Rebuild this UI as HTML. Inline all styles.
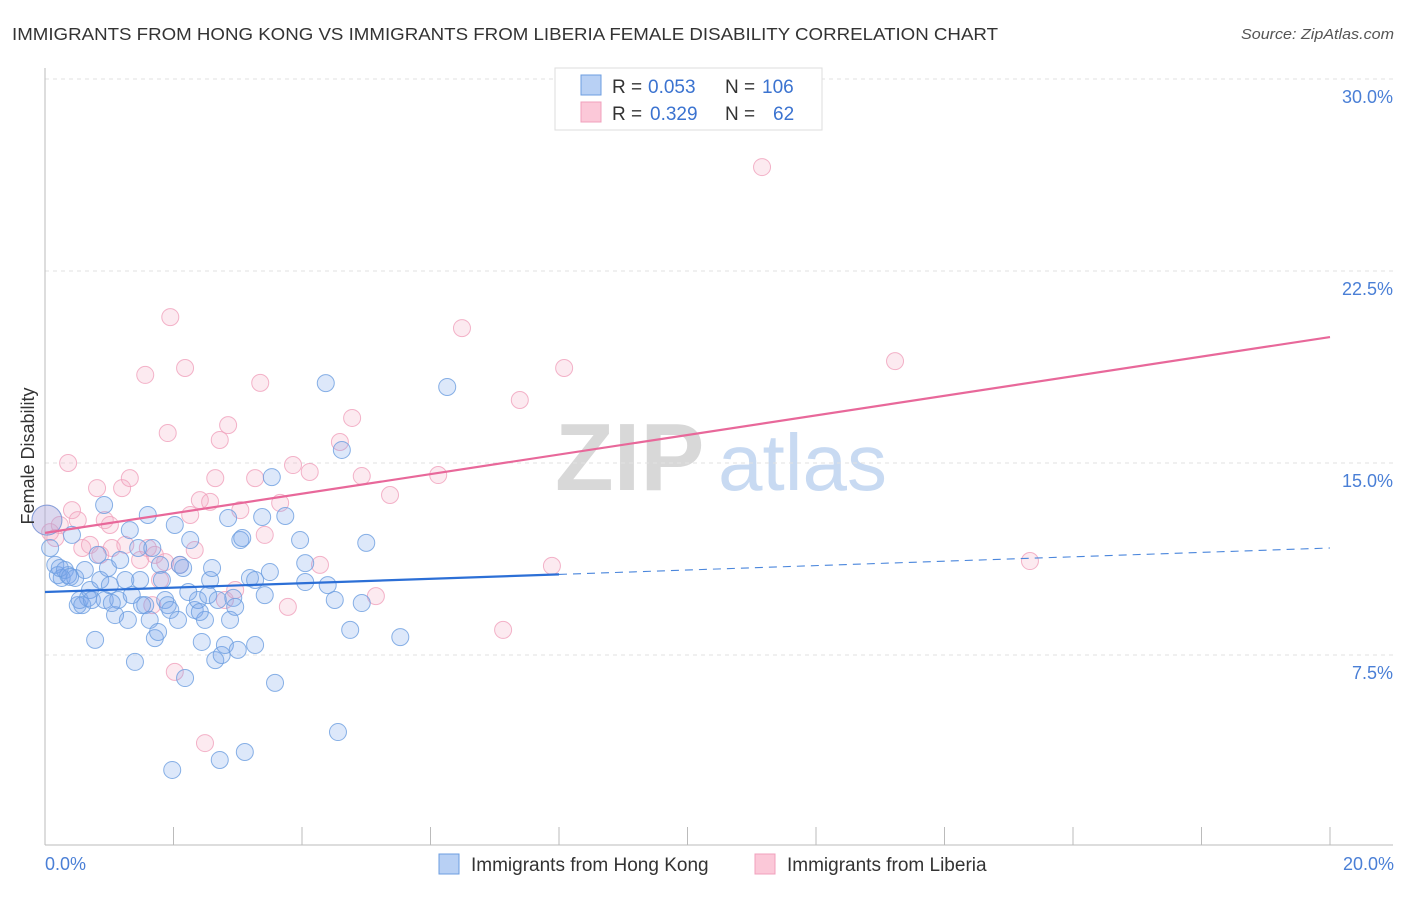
<!DOCTYPE html>
<html><head><meta charset="utf-8">
<style>
body{margin:0;background:#fff;font-family:"Liberation Sans",sans-serif;}
svg text{font-family:"Liberation Sans",sans-serif;}
</style></head>
<body>
<svg id="chart" width="1406" height="892" xmlns="http://www.w3.org/2000/svg">
<text x="12" y="40" font-size="17.5" fill="#333" textLength="986" lengthAdjust="spacingAndGlyphs">IMMIGRANTS FROM HONG KONG VS IMMIGRANTS FROM LIBERIA FEMALE DISABILITY CORRELATION CHART</text>
<text x="1241" y="39" font-size="15" fill="#555" font-style="italic" textLength="153" lengthAdjust="spacingAndGlyphs">Source: ZipAtlas.com</text>
<g>
<text x="555" y="490" font-size="96" fill="#d8d8d8" font-family="Liberation Serif" font-weight="bold">ZIP</text>
<text x="718" y="490" font-size="80" fill="#c8daf2">atlas</text>
</g>
<g id="grid"></g>
<g id="axes"></g>
<g id="marks"></g>
<text transform="translate(34,456) rotate(-90)" font-size="18" fill="#333" text-anchor="middle">Female Disability</text>
<text x="45" y="870" font-size="18" fill="#4a7fd6">0.0%</text>
<text x="1394" y="870" font-size="18" fill="#4a7fd6" text-anchor="end">20.0%</text>
<g>
<rect x="555" y="68" width="267" height="62" fill="#fff" stroke="#ddd"/>
<rect x="581" y="75" width="20" height="20" fill="#b8d0f4" stroke="#6c9ee0"/>
<rect x="581" y="102" width="20" height="20" fill="#fbc8d8" stroke="#f0a0bc"/>
<text x="612" y="93" font-size="19" fill="#333">R =</text>
<text x="648" y="93" font-size="19" fill="#3b73d0">0.053</text>
<text x="725" y="93" font-size="19" fill="#333">N =</text>
<text x="762" y="93" font-size="19" fill="#3b73d0">106</text>
<text x="612" y="120" font-size="19" fill="#333">R =</text>
<text x="650" y="120" font-size="19" fill="#3b73d0">0.329</text>
<text x="725" y="120" font-size="19" fill="#333">N =</text>
<text x="773" y="120" font-size="19" fill="#3b73d0">62</text>
</g>
<g>
<rect x="439" y="854" width="20" height="20" fill="#b8d0f4" stroke="#6c9ee0"/>
<text x="471" y="871" font-size="19" fill="#333">Immigrants from Hong Kong</text>
<rect x="755" y="854" width="20" height="20" fill="#fbc8d8" stroke="#f0a0bc"/>
<text x="787" y="871" font-size="19" fill="#333">Immigrants from Liberia</text>
</g>
</svg>
<script>
const yTicks=[7.5,15,22.5,30];
const yTickLabels=["7.5%","15.0%","22.5%","30.0%"];
const xTicks=[0,2,4,6,8,10,12,14,16,18,20];
const blueX=[0.03,0.08,0.16,0.20,0.26,0.31,0.36,0.42,0.47,0.51,0.54,0.62,0.67,0.70,0.78,0.82,0.86,0.92,0.93,0.98,1.01,1.09,1.14,1.17,1.25,1.29,1.32,1.40,1.45,1.48,1.56,1.60,1.63,1.67,1.71,1.76,1.79,1.87,1.91,1.95,1.98,2.02,2.07,2.10,2.15,2.18,2.26,2.33,2.38,2.44,2.49,2.54,2.57,2.60,2.65,2.69,2.72,2.75,2.80,2.85,2.88,2.93,2.96,3.00,3.04,3.07,3.11,3.19,3.27,3.38,3.42,3.50,3.53,3.58,3.74,3.97,4.05,4.05,4.37,4.40,4.51,4.56,4.62,4.75,4.93,5.00,5.53,6.26,0.23,0.39,0.58,0.73,1.04,1.35,1.51,1.82,2.23,2.41,3.27];
const blueY=[12.77,11.68,11.02,10.62,10.51,10.82,10.62,12.19,10.51,9.45,9.65,10.82,9.73,10.04,8.09,11.41,10.43,13.36,9.65,10.90,10.23,9.06,9.65,11.21,10.43,8.87,12.38,7.23,11.68,10.43,9.45,12.97,8.87,11.68,8.16,8.40,11.02,9.65,9.45,9.26,3.01,12.58,8.87,11.02,10.90,6.60,11.99,9.26,9.65,8.01,8.87,9.84,10.43,10.90,7.30,9.65,3.40,7.50,7.89,12.85,8.87,9.73,9.38,7.70,11.99,12.07,3.71,10.51,7.89,12.89,9.84,10.74,14.45,6.41,12.93,11.99,10.35,11.09,18.12,10.23,9.65,4.49,15.51,8.48,9.53,11.88,8.20,17.97,10.90,10.55,9.45,9.65,9.53,9.84,9.45,10.43,9.96,9.18,10.43];
const pinkX=[0.03,0.08,0.16,0.23,0.36,0.42,0.51,0.58,0.70,0.81,0.86,0.93,1.01,1.04,1.20,1.25,1.32,1.48,1.56,1.60,1.67,1.71,1.79,1.87,1.91,1.95,2.02,2.10,2.18,2.26,2.33,2.41,2.49,2.57,2.65,2.72,2.80,2.85,2.96,3.04,3.27,3.35,3.42,3.66,3.78,3.86,4.12,4.28,4.59,4.78,4.93,5.15,5.37,6.12,6.49,7.13,7.39,7.89,8.08,11.16,13.23,15.33];
const pinkY=[12.77,12.30,12.07,12.58,15.00,13.16,12.77,11.68,11.80,14.02,11.41,12.77,12.58,11.68,14.02,11.80,14.41,11.21,18.44,11.68,9.45,11.41,10.43,11.13,16.17,20.70,6.84,11.02,18.71,12.97,11.60,13.55,4.06,13.48,14.41,15.90,9.65,16.48,10.04,13.16,14.41,18.13,12.19,13.44,9.38,14.92,14.65,11.02,15.82,16.76,14.49,9.80,13.75,14.53,20.27,8.48,17.46,10.98,18.71,26.56,18.98,11.17];
const blueTrend=[9.96,11.68];
const pinkTrend=[12.27,19.92];
const blueSolidEnd=8.0;

const NS="http://www.w3.org/2000/svg";
const xs=v=>45+v*64.25;
const ys=v=>79+(30-v)*25.6;
function mk(tag,attrs,parent){const e=document.createElementNS(NS,tag);for(const k in attrs)e.setAttribute(k,attrs[k]);parent.appendChild(e);return e;}
const grid=document.getElementById('grid'),axes=document.getElementById('axes'),marks=document.getElementById('marks');
yTicks.forEach((t,i)=>{
 const l=mk('line',{x1:45,x2:1393,y1:ys(t),y2:ys(t),stroke:'#e2e2e2','stroke-dasharray':'4,4'},grid);
 
 
 const tx=mk('text',{x:1393,y:ys(t)+24,'font-size':18,fill:'#4a7fd6','text-anchor':'end'},grid);
 tx.textContent=yTickLabels[i];
 
 
});
const ya=mk('line',{x1:45,x2:45,y1:68,y2:845,stroke:'#bbb'},axes);


const xa=mk('line',{x1:45,x2:1393,y1:845,y2:845,stroke:'#bbb'},axes);


xTicks.forEach(t=>{
 const l=mk('line',{x1:xs(t),x2:xs(t),y1:827,y2:845,stroke:'#bbb'},axes);
 
 
});
function pts(X,Y,fill,stroke,name){
 X.forEach((x,i)=>{
  const r=(x<0.05)?15:8.5;
  const c=mk('circle',{cx:xs(x),cy:ys(Y[i]),r:r,fill:fill,stroke:stroke,'stroke-width':1,'stroke-opacity':0.8},marks);
  
  
 });
}
pts(pinkX,pinkY,'rgba(245,170,195,0.25)','#f0a0bc','liberia-point');
pts(blueX,blueY,'rgba(120,165,235,0.25)','#6c9ee0','hong-kong-point');
const bAt=x=>blueTrend[0]+(blueTrend[1]-blueTrend[0])*x/20;
const pAt=x=>pinkTrend[0]+(pinkTrend[1]-pinkTrend[0])*x/20;
const b1=mk('line',{x1:xs(0),y1:ys(bAt(0)),x2:xs(blueSolidEnd),y2:ys(bAt(blueSolidEnd)),stroke:'#2c6fd6','stroke-width':2.2},marks);


const b2=mk('line',{x1:xs(blueSolidEnd),y1:ys(bAt(blueSolidEnd)),x2:xs(20),y2:ys(bAt(20)),stroke:'#4a86dc','stroke-width':1.1,'stroke-dasharray':'8,6'},marks);


const p1=mk('line',{x1:xs(0),y1:ys(pAt(0)),x2:xs(20),y2:ys(pAt(20)),stroke:'#e8689a','stroke-width':2.2},marks);


</script>
</body></html>
